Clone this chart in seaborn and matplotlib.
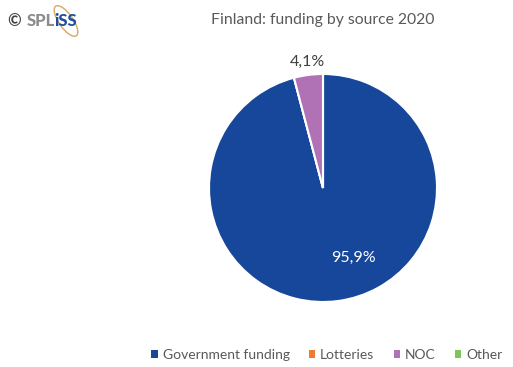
import matplotlib
matplotlib.use("Agg")
import matplotlib.pyplot as plt
from matplotlib.patches import Patch, Ellipse
import seaborn as sns

sources = ["Government funding", "Lotteries", "NOC", "Other"]
shares = [95.9, 0.0, 4.1, 0.0]
colors = ["#17479A", "#F07B2E", "#B072B5", "#7CC65A"]
title = "Finland: funding by source 2020"

sns.set_theme(style="white")
plt.rcParams["font.family"] = ["Lato", "DejaVu Sans"]

fig = plt.figure(figsize=(5.13, 3.67), dpi=100)
W, H = 513, 367
cx, cy, r = 323, 188, 114
ax = fig.add_axes([(cx - r) / W, 1 - (cy + r) / H, 2 * r / W, 2 * r / H])

wedges, _ = ax.pie(shares, colors=colors, startangle=90, counterclock=False,
                   wedgeprops=dict(edgecolor="white", linewidth=1.5))
ax.set_xlim(-1, 1)
ax.set_ylim(-1, 1)
ax.set_aspect("equal")

ax.text(0.27, -0.615, f"{shares[0]:.1f}%".replace(".", ","), color="white",
        fontsize=11.5, ha="center", va="center")
ax.text(-0.14, 1.11, f"{shares[2]:.1f}%".replace(".", ","), color="#404040",
        fontsize=11.5, ha="center", va="center")

fig.text(323 / W, 1 - 20 / H, title, fontsize=11.3, color="#595959",
         ha="center", va="center")

# logo
fig.text(7 / W, 1 - 21 / H, "©", fontsize=12, color="#404040", ha="left",
         va="center", fontweight="bold")
fig.text(27 / W, 1 - 21 / H, "SPL", fontsize=12, color="#8C8C8C", ha="left",
         va="center", fontweight="black")
fig.text(54.5 / W, 1 - 21 / H, "iSS", fontsize=12, color="#1F4E9A", ha="left",
         va="center", fontweight="black")
logo_ax = fig.add_axes([0, 0, 1, 1], facecolor="none")
logo_ax.set_xlim(0, W)
logo_ax.set_ylim(H, 0)
logo_ax.axis("off")
logo_ax.add_patch(Ellipse((66, 21), 14, 36, angle=-35, fill=False,
                          edgecolor="#D9A860", linewidth=1.0))

handles = [Patch(facecolor=c, edgecolor="none") for c in colors]
leg = fig.legend(handles, sources, loc="center", bbox_to_anchor=(327 / W, 1 - 355 / H),
                 ncol=4, frameon=False, fontsize=10, handlelength=0.45,
                 handleheight=0.45, handletextpad=0.35, columnspacing=1.4)
for t in leg.get_texts():
    t.set_color("#595959")

fig.savefig("out.png", dpi=100)
